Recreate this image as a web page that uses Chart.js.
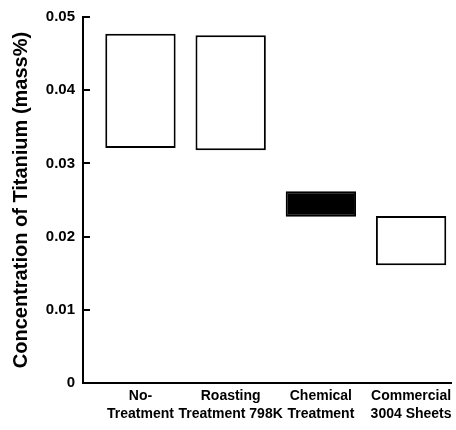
<!DOCTYPE html>
<html>
<head>
<meta charset="utf-8">
<script src="https://cdn.jsdelivr.net/npm/chart.js@4/dist/chart.umd.min.js"></script>
<style>
  body { margin: 0; background: #fff; }
  canvas { display: block; }
</style>
</head>
<body>
<canvas id="tiChart" width="456" height="430"></canvas>
<script>
// Data
const categories = [
    ['No-', 'Treatment'],
    ['Roasting', 'Treatment 798K'],
    ['Chemical', 'Treatment'],
    ['Commercial', '3004 Sheets']
];
const lowValues = [0.0321, 0.0318, 0.0227, 0.0161];
const highValues = [0.0477, 0.0475, 0.0262, 0.0228];
const yTicks = [0, 0.01, 0.02, 0.03, 0.04, 0.05];

const fontFamily = "'Liberation Sans', Arial, Helvetica, sans-serif";

// Short tick marks pointing into the plot, at the y scale's tick values
const innerTicks = {
    id: 'innerTicks',
    afterDatasetsDraw(chart) {
        const y = chart.scales.y;
        const c = chart.ctx;
        c.save();
        c.strokeStyle = '#000';
        c.lineWidth = 2;
        y.ticks.forEach(t => {
            const py = Math.round(y.getPixelForValue(t.value));
            c.beginPath();
            c.moveTo(y.right, py);
            c.lineTo(y.right + 7, py);
            c.stroke();
        });
        c.restore();
    }
};

const ctx = document.getElementById('tiChart');
new Chart(ctx, {
    type: 'bar',
    data: {
        datasets: [{
            data: categories.map((c, i) => ({ x: i, y: [lowValues[i], highValues[i]] })),
            backgroundColor: ['#fff', '#fff', '#000', '#fff'],
            borderColor: '#000',
            borderWidth: 2,
            borderSkipped: false,
            barPercentage: 1,
            categoryPercentage: 0.78
        }]
    },
    plugins: [innerTicks],
    options: {
        responsive: false,
        animation: false,
        layout: {
            padding: { top: 11, right: 4, left: 0, bottom: 0 }
        },
        plugins: {
            legend: { display: false },
            tooltip: { enabled: false }
        },
        scales: {
            x: {
                type: 'linear',
                offset: false,
                min: -0.637,
                max: 3.45,
                afterBuildTicks: axis => {
                    axis.ticks = categories.map((c, i) => ({ value: i }));
                },
                afterFit: axis => { axis.height = 47; },
                grid: { display: false, drawTicks: false },
                border: { color: '#000', width: 2 },
                ticks: {
                    autoSkip: false,
                    maxRotation: 0,
                    padding: 4,
                    color: '#000',
                    font: { family: fontFamily, size: 14, weight: 'bold', lineHeight: 1.3 },
                    callback: value => categories[value]
                }
            },
            y: {
                min: 0,
                max: 0.05,
                afterBuildTicks: axis => {
                    axis.ticks = yTicks.map(v => ({ value: v }));
                },
                afterFit: axis => { axis.width = 83; },
                grid: { drawOnChartArea: false, drawTicks: false },
                border: { color: '#000', width: 2 },
                ticks: {
                    padding: 8,
                    color: '#000',
                    font: { family: fontFamily, size: 15, weight: 'bold' },
                    callback: value => value === 0 ? '0' : value.toFixed(2)
                },
                title: {
                    display: true,
                    text: 'Concentration of Titanium (mass%)',
                    color: '#000',
                    padding: { top: 9, bottom: 0 },
                    font: { family: fontFamily, size: 20, weight: 'bold' }
                }
            }
        }
    }
});
</script>
</body>
</html>
